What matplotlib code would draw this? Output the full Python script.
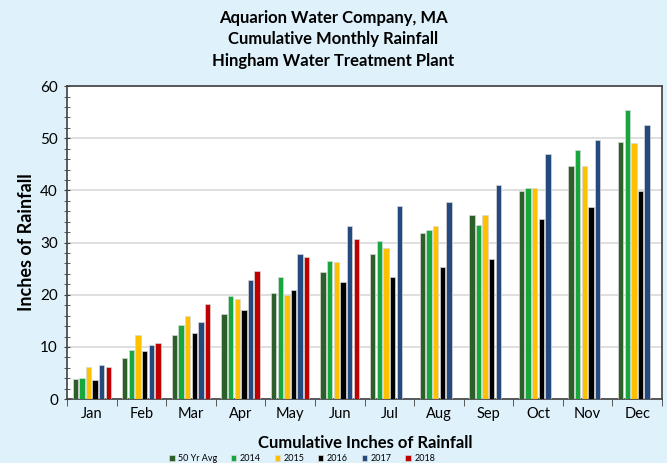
import matplotlib
matplotlib.use("Agg")
import matplotlib.pyplot as plt
import numpy as np
from matplotlib.ticker import MultipleLocator

months = ["Jan", "Feb", "Mar", "Apr", "May", "Jun", "Jul", "Aug", "Sep", "Oct", "Nov", "Dec"]
series_names = ["50 Yr Avg", "2014", "2015", "2016", "2017", "2018"]
avg50 = [3.9, 7.8, 12.2, 16.3, 20.4, 24.4, 27.8, 31.9, 35.3, 39.9, 44.6, 49.2]
y2014 = [4.0, 9.4, 14.2, 19.8, 23.5, 26.5, 30.4, 32.5, 33.3, 40.4, 47.8, 55.5]
y2015 = [6.2, 12.2, 16.0, 19.1, 19.9, 26.3, 28.9, 33.1, 35.3, 40.4, 44.6, 49.1]
y2016 = [3.7, 9.2, 12.7, 17.1, 21.0, 22.4, 23.5, 25.3, 26.9, 34.6, 36.8, 39.8]
y2017 = [6.5, 10.4, 14.7, 22.8, 27.9, 33.2, 37.0, 37.8, 41.0, 46.9, 49.7, 52.6]
y2018 = [6.2, 10.8, 18.2, 24.5, 27.3, 30.6]

data = [avg50, y2014, y2015, y2016, y2017, y2018]
colors = ["#2d5f2b", "#16a83c", "#ffc000", "#000000", "#24497f", "#c00000"]

fig = plt.figure(figsize=(6.67, 4.63), dpi=100)
fig.patch.set_facecolor("#dff2fb")
ax = fig.add_axes([0.1005, 0.138, 0.892, 0.676])
ax.set_facecolor("white")

slot = 0.134
bw = 0.108
x = np.arange(len(months))
for i, (vals, c, name) in enumerate(zip(data, colors, series_names)):
    pos = x[:len(vals)] + (i - 2.5) * slot
    ax.bar(pos, vals, width=bw, color=c, edgecolor="#d8d8d8", linewidth=0.5, label=name, zorder=3)

ax.set_xlim(-0.5, 11.5)
ax.set_ylim(0, 60)
ax.yaxis.set_major_locator(MultipleLocator(10))
ax.yaxis.set_minor_locator(MultipleLocator(2))
ax.grid(axis="y", which="major", color="#d9d9d9", linewidth=1.2, zorder=0)
ax.set_xticks(x)
ax.set_xticklabels(months, fontsize=10.5, family="Lato")
ax.set_xticks(np.arange(-0.5, 12, 1), minor=True)
ax.tick_params(axis="x", which="major", length=0, pad=6)
ax.tick_params(axis="x", which="minor", length=5, direction="out", color="#404040")
ax.tick_params(axis="y", which="major", length=5, direction="inout", labelsize=11, color="#404040", pad=4)
ax.tick_params(axis="y", which="minor", length=5, direction="inout", color="#404040")
for lab in ax.get_yticklabels():
    lab.set_family("Lato")
for sp in ax.spines.values():
    sp.set_color("#404040")
    sp.set_linewidth(1.2)

ax.set_ylabel("Inches of Rainfall", fontsize=13, fontweight="bold", family="Lato", labelpad=4)
fig.text(0.547, 0.043, "Cumulative Inches of Rainfall", ha="center", va="center",
         fontsize=12, fontweight="bold", family="Lato")
fig.text(0.5, 0.915, "Aquarion Water Company, MA\nCumulative Monthly Rainfall\nHingham Water Treatment Plant",
         ha="center", va="center", fontsize=12, fontweight="bold", family="Lato", linespacing=1.45)

leg = fig.legend(loc="center", bbox_to_anchor=(0.453, 0.01), ncol=6, frameon=False,
                 handlelength=0.6, handleheight=0.6, columnspacing=1.5,
                 handletextpad=0.4, prop={"family": "Lato", "size": 6.5})

fig.savefig("out.png", dpi=100, facecolor=fig.get_facecolor())
